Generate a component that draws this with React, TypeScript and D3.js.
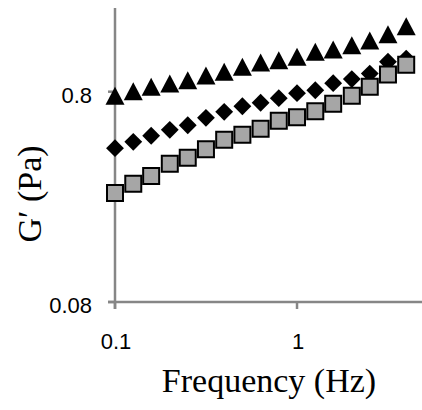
import React from "react";
import * as d3 from "d3";

const frequencies = [0.1, 0.126, 0.158, 0.2, 0.251, 0.316, 0.398, 0.501, 0.631, 0.794, 1, 1.26, 1.58, 2, 2.51, 3.16, 3.98];
const seriesTriangle = [0.766, 0.804, 0.845, 0.874, 0.907, 0.954, 0.996, 1.052, 1.1, 1.13, 1.174, 1.24, 1.268, 1.33, 1.4, 1.5, 1.64];
const seriesDiamond = [0.431, 0.462, 0.494, 0.527, 0.554, 0.601, 0.642, 0.682, 0.709, 0.745, 0.787, 0.813, 0.878, 0.918, 0.975, 1.11, 1.149];
const seriesSquare = [0.264, 0.292, 0.318, 0.363, 0.388, 0.426, 0.473, 0.499, 0.533, 0.582, 0.605, 0.646, 0.701, 0.766, 0.845, 0.965, 1.075];
const xTicks = [0.1, 1];
const xTickLabels = ["0.1", "1"];
const yTicks = [0.08, 0.8];
const yTickLabels = ["0.08", "0.8"];
const xDomain = [0.1, 4.86];
const yDomain = [0.08, 2];

export default function App() {
  const W = 422, H = 410;
  const x = d3.scaleLog().domain(xDomain).range([115, 422]);
  const y = d3.scaleLog().domain(yDomain).range([302, 8]);
  const axisColor = "#868686";
  const sq = d3.symbol().type(d3.symbolSquare).size(16 * 16)() as string;
  const dia = d3.symbol().type(d3.symbolSquare).size(12.6 * 12.6)() as string;
  const triPath = (() => {
    const p = d3.path();
    p.moveTo(0, -9);
    p.lineTo(9.5, 9);
    p.lineTo(-9.5, 9);
    p.closePath();
    return p.toString();
  })();
  const x0 = x(xDomain[0]);
  const yBase = y(yDomain[0]);
  return (
    <svg width={W} height={H} style={{ position: "absolute", left: 0, top: 0, background: "#fff" }}>
      {/* axes */}
      <line x1={x0 - 7} x2={W} y1={yBase} y2={yBase} stroke={axisColor} strokeWidth={2.5} />
      <line x1={x0} x2={x0} y1={y(yDomain[1])} y2={yBase + 7} stroke={axisColor} strokeWidth={2.5} />
      {xTicks.map((t, i) => (
        <g key={"xt" + i}>
          <line x1={x(t)} x2={x(t)} y1={yBase} y2={yBase + 7} stroke={axisColor} strokeWidth={2.5} />
          <text x={x(t) + 1} y={yBase + 47} textAnchor="middle" fontFamily="Liberation Sans, Arial, sans-serif" fontSize={22} fill="#000">
            {xTickLabels[i]}
          </text>
        </g>
      ))}
      {yTicks.map((t, i) => (
        <g key={"yt" + i}>
          <line x1={x0 - 7} x2={x0} y1={y(t)} y2={y(t)} stroke={axisColor} strokeWidth={2.5} />
          <text x={92} y={y(t) + 11} textAnchor="end" fontFamily="Liberation Sans, Arial, sans-serif" fontSize={22} fill="#000">
            {yTickLabels[i]}
          </text>
        </g>
      ))}
      {/* series */}
      {frequencies.map((f, i) => (
        <path key={"t" + i} d={triPath} transform={`translate(${x(f)},${y(seriesTriangle[i])})`} fill="#000" />
      ))}
      {frequencies.map((f, i) => (
        <path key={"d" + i} d={dia} transform={`translate(${x(f)},${y(seriesDiamond[i])}) rotate(45)`} fill="#000" />
      ))}
      {frequencies.map((f, i) => (
        <path key={"s" + i} d={sq} transform={`translate(${x(f)},${y(seriesSquare[i])})`} fill="#a6a6a6" stroke="#000" strokeWidth={2} />
      ))}
      {/* axis titles */}
      <text x={269} y={392} textAnchor="middle" fontFamily="Liberation Serif, Times New Roman, serif" fontSize={34} fill="#000">
        Frequency (Hz)
      </text>
      <text transform="translate(41,194) rotate(-90)" textAnchor="middle" fontFamily="Liberation Serif, Times New Roman, serif" fontSize={34} fill="#000">
        G′ (Pa)
      </text>
    </svg>
  );
}
